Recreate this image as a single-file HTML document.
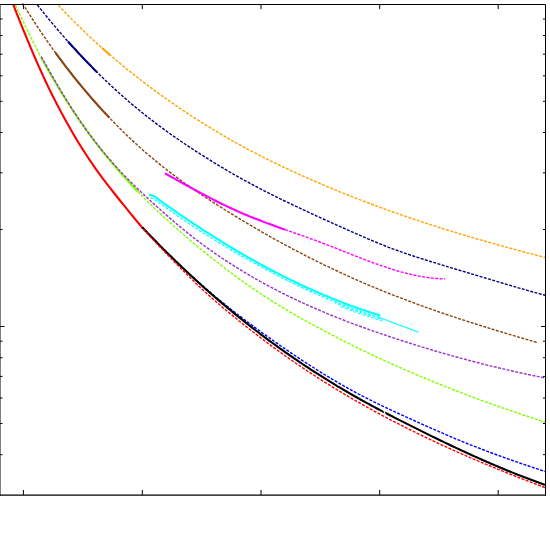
<!DOCTYPE html>
<html><head><meta charset="utf-8"><title>plot</title>
<style>
html,body{margin:0;padding:0;background:#fff;width:550px;height:550px;overflow:hidden;font-family:"Liberation Sans",sans-serif;}
svg{display:block;position:absolute;left:0;top:0;}
</style></head><body>
<svg width="550" height="550" viewBox="0 0 550 550">
<rect x="0" y="0" width="550" height="550" fill="#ffffff"/>
<defs><clipPath id="c"><rect x="0" y="2" width="546" height="493.5"/></clipPath></defs>
<g clip-path="url(#c)" stroke-linecap="butt" stroke-linejoin="round">
<path d="M58.40,5.23 L60.40,7.38 L62.40,9.51 L64.40,11.62 L66.40,13.71 L68.40,15.78 L70.40,17.84 L72.40,19.87 L74.40,21.88 L76.40,23.88 L78.40,25.85 L80.40,27.81 L82.40,29.75 L84.40,31.68 L86.40,33.59 L88.40,35.48 L90.40,37.35 L92.40,39.21 L94.40,41.06 L96.40,42.89 L98.40,44.70 L100.40,46.50 L102.40,48.29 L104.40,50.06 L106.40,51.82 L108.40,53.56 L110.40,55.30 L112.40,57.01 L114.40,58.72 L116.40,60.41 L118.40,62.09 L120.40,63.76 L122.40,65.42 L124.40,67.06 L126.40,68.69 L128.40,70.31 L130.40,71.92 L132.40,73.51 L134.40,75.10 L136.40,76.67 L138.40,78.23 L140.40,79.78 L142.40,81.32 L144.40,82.84 L146.40,84.36 L148.40,85.87 L150.40,87.36 L152.40,88.85 L154.40,90.32 L156.40,91.79 L158.40,93.24 L160.40,94.68 L162.40,96.12 L164.40,97.55 L166.40,98.96 L168.40,100.37 L170.40,101.77 L172.40,103.15 L174.40,104.53 L176.40,105.90 L178.40,107.27 L180.40,108.62 L182.40,109.96 L184.40,111.30 L186.40,112.62 L188.40,113.94 L190.40,115.25 L192.40,116.55 L194.40,117.84 L196.40,119.12 L198.40,120.39 L200.40,121.66 L202.40,122.91 L204.40,124.16 L206.40,125.40 L208.40,126.63 L210.40,127.85 L212.40,129.07 L214.40,130.27 L216.40,131.47 L218.40,132.66 L220.40,133.84 L222.40,135.01 L224.40,136.18 L226.40,137.33 L228.40,138.48 L230.40,139.62 L232.40,140.75 L234.40,141.87 L236.40,142.99 L238.40,144.09 L240.40,145.19 L242.40,146.28 L244.40,147.37 L246.40,148.44 L248.40,149.51 L250.40,150.57 L252.40,151.62 L254.40,152.67 L256.40,153.70 L258.40,154.74 L260.40,155.76 L262.40,156.78 L264.40,157.79 L266.40,158.79 L268.40,159.79 L270.40,160.78 L272.40,161.76 L274.40,162.74 L276.40,163.71 L278.40,164.68 L280.40,165.64 L282.40,166.59 L284.40,167.54 L286.40,168.48 L288.40,169.42 L290.40,170.35 L292.40,171.27 L294.40,172.19 L296.40,173.11 L298.40,174.02 L300.40,174.92 L302.40,175.82 L304.40,176.72 L306.40,177.61 L308.40,178.50 L310.40,179.38 L312.40,180.26 L314.40,181.13 L316.40,182.00 L318.40,182.86 L320.40,183.72 L322.40,184.57 L324.40,185.42 L326.40,186.27 L328.40,187.11 L330.40,187.94 L332.40,188.77 L334.40,189.60 L336.40,190.42 L338.40,191.24 L340.40,192.05 L342.40,192.86 L344.40,193.67 L346.40,194.47 L348.40,195.27 L350.40,196.06 L352.40,196.85 L354.40,197.63 L356.40,198.41 L358.40,199.19 L360.40,199.96 L362.40,200.73 L364.40,201.49 L366.40,202.25 L368.40,203.01 L370.40,203.76 L372.40,204.51 L374.40,205.26 L376.40,206.00 L378.40,206.73 L380.40,207.47 L382.40,208.20 L384.40,208.92 L386.40,209.64 L388.40,210.36 L390.40,211.08 L392.40,211.79 L394.40,212.50 L396.40,213.20 L398.40,213.90 L400.40,214.60 L402.40,215.29 L404.40,215.98 L406.40,216.67 L408.40,217.35 L410.40,218.03 L412.40,218.70 L414.40,219.38 L416.40,220.05 L418.40,220.71 L420.40,221.38 L422.40,222.04 L424.40,222.69 L426.40,223.35 L428.40,224.00 L430.40,224.64 L432.40,225.29 L434.40,225.93 L436.40,226.57 L438.40,227.20 L440.40,227.83 L442.40,228.46 L444.40,229.09 L446.40,229.71 L448.40,230.33 L450.40,230.95 L452.40,231.56 L454.40,232.18 L456.40,232.78 L458.40,233.39 L460.40,233.99 L462.40,234.60 L464.40,235.19 L466.40,235.79 L468.40,236.38 L470.40,236.97 L472.40,237.56 L474.40,238.15 L476.40,238.73 L478.40,239.31 L480.40,239.89 L482.40,240.46 L484.40,241.04 L486.40,241.61 L488.40,242.17 L490.40,242.74 L492.40,243.30 L494.40,243.87 L496.40,244.43 L498.40,244.98 L500.40,245.54 L502.40,246.09 L504.40,246.64 L506.40,247.19 L508.40,247.74 L510.40,248.28 L512.40,248.82 L514.40,249.36 L516.40,249.90 L518.40,250.44 L520.40,250.97 L522.40,251.50 L524.40,252.04 L526.40,252.56 L528.40,253.09 L530.40,253.62 L532.40,254.14 L534.40,254.66 L536.40,255.18 L538.40,255.70 L540.40,256.22 L542.40,256.73 L544.40,257.25 L545.00,257.40" stroke="#ffa500" stroke-width="1.4" stroke-dasharray="3.0 1.4" stroke-dashoffset="0" fill="none"/>
<path d="M102.00,47.93 L104.00,49.71 L106.00,51.47 L108.00,53.22 L110.00,54.95 L110.50,55.38" stroke="#ffa500" stroke-width="2.1" fill="none"/>
<path d="M37.30,4.91 L39.30,7.43 L41.30,9.92 L43.30,12.40 L45.30,14.85 L47.30,17.29 L49.30,19.71 L51.30,22.12 L53.30,24.50 L55.30,26.87 L57.30,29.22 L59.30,31.55 L61.30,33.86 L63.30,36.16 L65.30,38.43 L67.30,40.69 L69.30,42.93 L71.30,45.16 L73.30,47.36 L75.30,49.55 L77.30,51.72 L79.30,53.87 L81.30,56.01 L83.30,58.12 L85.30,60.22 L87.30,62.31 L89.30,64.37 L91.30,66.42 L93.30,68.44 L95.30,70.46 L97.30,72.45 L99.30,74.42 L101.30,76.38 L103.30,78.32 L105.30,80.25 L107.30,82.15 L109.30,84.04 L111.30,85.91 L113.30,87.77 L115.30,89.61 L117.30,91.42 L119.30,93.23 L121.30,95.01 L123.30,96.78 L125.30,98.53 L127.30,100.26 L129.30,101.98 L131.30,103.68 L133.30,105.36 L135.30,107.03 L137.30,108.68 L139.30,110.32 L141.30,111.94 L143.30,113.54 L145.30,115.13 L147.30,116.71 L149.30,118.27 L151.30,119.82 L153.30,121.35 L155.30,122.87 L157.30,124.37 L159.30,125.87 L161.30,127.35 L163.30,128.81 L165.30,130.27 L167.30,131.71 L169.30,133.14 L171.30,134.56 L173.30,135.97 L175.30,137.37 L177.30,138.76 L179.30,140.14 L181.30,141.50 L183.30,142.86 L185.30,144.21 L187.30,145.54 L189.30,146.87 L191.30,148.19 L193.30,149.50 L195.30,150.80 L197.30,152.10 L199.30,153.38 L201.30,154.66 L203.30,155.93 L205.30,157.20 L207.30,158.45 L209.30,159.70 L211.30,160.94 L213.30,162.18 L215.30,163.40 L217.30,164.62 L219.30,165.83 L221.30,167.03 L223.30,168.22 L225.30,169.40 L227.30,170.58 L229.30,171.74 L231.30,172.90 L233.30,174.05 L235.30,175.19 L237.30,176.33 L239.30,177.45 L241.30,178.56 L243.30,179.67 L245.30,180.77 L247.30,181.86 L249.30,182.94 L251.30,184.01 L253.30,185.08 L255.30,186.13 L257.30,187.18 L259.30,188.23 L261.30,189.27 L263.30,190.30 L265.30,191.32 L267.30,192.34 L269.30,193.35 L271.30,194.35 L273.30,195.35 L275.30,196.35 L277.30,197.34 L279.30,198.32 L281.30,199.30 L283.30,200.28 L285.30,201.25 L287.30,202.22 L289.30,203.18 L291.30,204.14 L293.30,205.09 L295.30,206.05 L297.30,206.99 L299.30,207.94 L301.30,208.88 L303.30,209.81 L305.30,210.74 L307.30,211.67 L309.30,212.60 L311.30,213.53 L313.30,214.45 L315.30,215.36 L317.30,216.28 L319.30,217.19 L321.30,218.10 L323.30,219.01 L325.30,219.92 L327.30,220.82 L329.30,221.72 L331.30,222.62 L333.30,223.52 L335.30,224.42 L337.30,225.31 L339.30,226.20 L341.30,227.10 L343.30,227.99 L345.30,228.88 L347.30,229.77 L349.30,230.65 L351.30,231.54 L353.30,232.43 L355.30,233.31 L357.30,234.19 L359.30,235.07 L361.30,235.95 L363.30,236.82 L365.30,237.68 L367.30,238.55 L369.30,239.40 L371.30,240.25 L373.30,241.10 L375.30,241.93 L377.30,242.76 L379.30,243.58 L381.30,244.40 L383.30,245.20 L385.30,245.99 L387.30,246.77 L389.30,247.54 L391.30,248.30 L393.30,249.05 L395.30,249.79 L397.30,250.51 L399.30,251.23 L401.30,251.94 L403.30,252.63 L405.30,253.32 L407.30,254.00 L409.30,254.67 L411.30,255.34 L413.30,256.00 L415.30,256.65 L417.30,257.30 L419.30,257.94 L421.30,258.58 L423.30,259.21 L425.30,259.84 L427.30,260.47 L429.30,261.09 L431.30,261.71 L433.30,262.33 L435.30,262.95 L437.30,263.56 L439.30,264.18 L441.30,264.79 L443.30,265.40 L445.30,266.01 L447.30,266.61 L449.30,267.22 L451.30,267.82 L453.30,268.43 L455.30,269.03 L457.30,269.63 L459.30,270.23 L461.30,270.83 L463.30,271.43 L465.30,272.03 L467.30,272.63 L469.30,273.23 L471.30,273.83 L473.30,274.42 L475.30,275.02 L477.30,275.62 L479.30,276.22 L481.30,276.81 L483.30,277.41 L485.30,278.01 L487.30,278.61 L489.30,279.20 L491.30,279.80 L493.30,280.40 L495.30,280.99 L497.30,281.59 L499.30,282.18 L501.30,282.78 L503.30,283.37 L505.30,283.96 L507.30,284.55 L509.30,285.14 L511.30,285.73 L513.30,286.31 L515.30,286.89 L517.30,287.47 L519.30,288.05 L521.30,288.63 L523.30,289.20 L525.30,289.78 L527.30,290.34 L529.30,290.91 L531.30,291.47 L533.30,292.03 L535.30,292.59 L537.30,293.14 L539.30,293.69 L541.30,294.24 L543.30,294.78 L545.00,295.24" stroke="#000080" stroke-width="1.4" stroke-dasharray="3.0 1.4" stroke-dashoffset="0" fill="none"/>
<path d="M68.00,41.48 L70.00,43.71 L72.00,45.93 L74.00,48.13 L76.00,50.31 L78.00,52.48 L80.00,54.62 L82.00,56.75 L84.00,58.86 L86.00,60.95 L88.00,63.03 L90.00,65.09 L92.00,67.13 L94.00,69.15 L96.00,71.16 L97.00,72.15" stroke="#000080" stroke-width="2.1" fill="none"/>
<path d="M22.50,3.34 L24.50,6.57 L26.50,9.77 L28.50,12.94 L30.50,16.07 L32.50,19.18 L34.50,22.25 L36.50,25.29 L38.50,28.31 L40.50,31.29 L42.50,34.24 L44.50,37.17 L46.50,40.06 L48.50,42.93 L50.50,45.76 L52.50,48.57 L54.50,51.35 L56.50,54.10 L58.50,56.83 L60.50,59.52 L62.50,62.19 L64.50,64.84 L66.50,67.45 L68.50,70.04 L70.50,72.61 L72.50,75.15 L74.50,77.66 L76.50,80.15 L78.50,82.62 L80.50,85.06 L82.50,87.47 L84.50,89.86 L86.50,92.23 L88.50,94.58 L90.50,96.90 L92.50,99.20 L94.50,101.47 L96.50,103.73 L98.50,105.96 L100.50,108.17 L102.50,110.36 L104.50,112.52 L106.50,114.67 L108.50,116.79 L110.50,118.89 L112.50,120.97 L114.50,123.03 L116.50,125.07 L118.50,127.09 L120.50,129.08 L122.50,131.06 L124.50,133.01 L126.50,134.95 L128.50,136.86 L130.50,138.76 L132.50,140.63 L134.50,142.48 L136.50,144.32 L138.50,146.13 L140.50,147.93 L142.50,149.70 L144.50,151.46 L146.50,153.20 L148.50,154.92 L150.50,156.61 L152.50,158.30 L154.50,159.96 L156.50,161.60 L158.50,163.23 L160.50,164.84 L162.50,166.43 L164.50,168.01 L166.50,169.57 L168.50,171.11 L170.50,172.64 L172.50,174.16 L174.50,175.66 L176.50,177.14 L178.50,178.62 L180.50,180.07 L182.50,181.52 L184.50,182.95 L186.50,184.37 L188.50,185.78 L190.50,187.18 L192.50,188.56 L194.50,189.94 L196.50,191.30 L198.50,192.66 L200.50,194.00 L202.50,195.33 L204.50,196.66 L206.50,197.98 L208.50,199.29 L210.50,200.59 L212.50,201.88 L214.50,203.17 L216.50,204.45 L218.50,205.72 L220.50,206.99 L222.50,208.25 L224.50,209.50 L226.50,210.75 L228.50,212.00 L230.50,213.24 L232.50,214.47 L234.50,215.69 L236.50,216.92 L238.50,218.13 L240.50,219.34 L242.50,220.54 L244.50,221.74 L246.50,222.93 L248.50,224.12 L250.50,225.30 L252.50,226.48 L254.50,227.65 L256.50,228.81 L258.50,229.97 L260.50,231.12 L262.50,232.27 L264.50,233.41 L266.50,234.55 L268.50,235.68 L270.50,236.80 L272.50,237.92 L274.50,239.03 L276.50,240.14 L278.50,241.24 L280.50,242.34 L282.50,243.43 L284.50,244.51 L286.50,245.59 L288.50,246.66 L290.50,247.73 L292.50,248.79 L294.50,249.85 L296.50,250.90 L298.50,251.95 L300.50,252.99 L302.50,254.02 L304.50,255.05 L306.50,256.07 L308.50,257.09 L310.50,258.10 L312.50,259.11 L314.50,260.11 L316.50,261.10 L318.50,262.09 L320.50,263.08 L322.50,264.05 L324.50,265.03 L326.50,265.99 L328.50,266.96 L330.50,267.91 L332.50,268.86 L334.50,269.81 L336.50,270.75 L338.50,271.68 L340.50,272.61 L342.50,273.53 L344.50,274.45 L346.50,275.36 L348.50,276.27 L350.50,277.17 L352.50,278.06 L354.50,278.95 L356.50,279.84 L358.50,280.71 L360.50,281.59 L362.50,282.46 L364.50,283.32 L366.50,284.17 L368.50,285.03 L370.50,285.87 L372.50,286.71 L374.50,287.55 L376.50,288.38 L378.50,289.20 L380.50,290.02 L382.50,290.83 L384.50,291.64 L386.50,292.45 L388.50,293.24 L390.50,294.04 L392.50,294.83 L394.50,295.61 L396.50,296.39 L398.50,297.16 L400.50,297.93 L402.50,298.70 L404.50,299.46 L406.50,300.22 L408.50,300.97 L410.50,301.71 L412.50,302.46 L414.50,303.20 L416.50,303.93 L418.50,304.66 L420.50,305.39 L422.50,306.11 L424.50,306.83 L426.50,307.54 L428.50,308.25 L430.50,308.96 L432.50,309.66 L434.50,310.36 L436.50,311.05 L438.50,311.74 L440.50,312.43 L442.50,313.11 L444.50,313.80 L446.50,314.47 L448.50,315.15 L450.50,315.82 L452.50,316.48 L454.50,317.15 L456.50,317.81 L458.50,318.47 L460.50,319.12 L462.50,319.78 L464.50,320.43 L466.50,321.07 L468.50,321.72 L470.50,322.36 L472.50,322.99 L474.50,323.63 L476.50,324.26 L478.50,324.89 L480.50,325.52 L482.50,326.15 L484.50,326.77 L486.50,327.39 L488.50,328.01 L490.50,328.63 L492.50,329.24 L494.50,329.85 L496.50,330.46 L498.50,331.07 L500.50,331.68 L502.50,332.28 L504.50,332.89 L506.50,333.49 L508.50,334.09 L510.50,334.69 L512.50,335.28 L514.50,335.88 L516.50,336.47 L518.50,337.06 L520.50,337.65 L522.50,338.24 L524.50,338.83 L526.50,339.42 L528.50,340.00 L530.50,340.59 L532.50,341.17 L534.50,341.75 L536.50,342.33 L537.50,342.63" stroke="#8b4513" stroke-width="1.4" stroke-dasharray="3.0 1.4" stroke-dashoffset="0" fill="none"/>
<path d="M55.40,52.59 L57.40,55.33 L59.40,58.04 L61.40,60.73 L63.40,63.39 L65.40,66.02 L67.40,68.62 L69.40,71.20 L71.40,73.76 L73.40,76.28 L75.40,78.79 L77.40,81.26 L79.40,83.72 L81.40,86.15 L83.40,88.55 L85.40,90.93 L87.40,93.29 L89.40,95.62 L91.40,97.94 L93.40,100.22 L95.40,102.49 L97.40,104.74 L99.40,106.96 L101.40,109.16 L103.40,111.34 L105.40,113.49 L107.40,115.63 L109.40,117.74 L109.50,117.84" stroke="#8b4513" stroke-width="2.1" fill="none"/>
<path d="M285.00,229.59 L287.00,230.30 L289.00,231.00 L291.00,231.70 L293.00,232.41 L295.00,233.11 L297.00,233.81 L299.00,234.52 L301.00,235.22 L303.00,235.93 L305.00,236.64 L307.00,237.36 L309.00,238.08 L311.00,238.80 L313.00,239.53 L315.00,240.26 L317.00,241.00 L319.00,241.74 L321.00,242.50 L323.00,243.26 L325.00,244.02 L327.00,244.79 L329.00,245.57 L331.00,246.35 L333.00,247.13 L335.00,247.92 L337.00,248.71 L339.00,249.50 L341.00,250.30 L343.00,251.09 L345.00,251.89 L347.00,252.68 L349.00,253.47 L351.00,254.27 L353.00,255.06 L355.00,255.85 L357.00,256.63 L359.00,257.41 L361.00,258.19 L363.00,258.96 L365.00,259.72 L367.00,260.48 L369.00,261.23 L371.00,261.98 L373.00,262.72 L375.00,263.44 L377.00,264.16 L379.00,264.87 L381.00,265.57 L383.00,266.26 L385.00,266.94 L387.00,267.60 L389.00,268.25 L391.00,268.89 L393.00,269.52 L395.00,270.13 L397.00,270.72 L399.00,271.30 L401.00,271.86 L403.00,272.41 L405.00,272.94 L407.00,273.45 L409.00,273.94 L411.00,274.41 L413.00,274.87 L415.00,275.30 L417.00,275.71 L419.00,276.10 L421.00,276.47 L423.00,276.81 L425.00,277.13 L427.00,277.43 L429.00,277.70 L431.00,277.95 L433.00,278.17 L435.00,278.37 L437.00,278.54 L439.00,278.68 L441.00,278.79 L443.00,278.87 L445.00,278.93" stroke="#ff00ff" stroke-width="1.4" stroke-dasharray="3.0 1.4" stroke-dashoffset="0" fill="none"/>
<path d="M165.00,173.37 L167.00,174.49 L169.00,175.61 L171.00,176.72 L173.00,177.84 L175.00,178.95 L177.00,180.06 L179.00,181.17 L181.00,182.28 L183.00,183.39 L185.00,184.49 L187.00,185.59 L189.00,186.69 L191.00,187.78 L193.00,188.87 L195.00,189.95 L197.00,191.03 L199.00,192.10 L201.00,193.17 L203.00,194.23 L205.00,195.28 L207.00,196.33 L209.00,197.37 L211.00,198.40 L213.00,199.43 L215.00,200.44 L217.00,201.45 L219.00,202.45 L221.00,203.44 L223.00,204.42 L225.00,205.39 L227.00,206.35 L229.00,207.29 L231.00,208.23 L233.00,209.16 L235.00,210.07 L237.00,210.97 L239.00,211.86 L241.00,212.73 L243.00,213.59 L245.00,214.44 L247.00,215.28 L249.00,216.11 L251.00,216.92 L253.00,217.73 L255.00,218.52 L257.00,219.30 L259.00,220.08 L261.00,220.85 L263.00,221.61 L265.00,222.36 L267.00,223.11 L269.00,223.85 L271.00,224.58 L273.00,225.31 L275.00,226.03 L277.00,226.75 L279.00,227.46 L281.00,228.18 L283.00,228.89 L285.00,229.59" stroke="#ff00ff" stroke-width="2.1" fill="none"/>
<path d="M154.10,196.27 L156.10,197.72 L158.10,199.16 L160.10,200.60 L162.10,202.03 L164.10,203.45 L166.10,204.87 L168.10,206.28 L170.10,207.69 L172.10,209.09 L174.10,210.48 L176.10,211.87 L178.10,213.25 L180.10,214.62 L182.10,215.99 L184.10,217.35 L186.10,218.70 L188.10,220.05 L190.10,221.39 L192.10,222.73 L194.10,224.06 L196.10,225.38 L198.10,226.70 L200.10,228.00 L202.10,229.31 L204.10,230.60 L206.10,231.89 L208.10,233.17 L210.10,234.45 L212.10,235.72 L214.10,236.98 L216.10,238.23 L218.10,239.48 L220.10,240.72 L222.10,241.95 L224.10,243.18 L226.10,244.40 L228.10,245.61 L230.10,246.82 L232.10,248.02 L234.10,249.21 L236.10,250.40 L238.10,251.57 L240.10,252.74 L242.10,253.91 L244.10,255.06 L246.10,256.21 L248.10,257.35 L250.10,258.49 L252.10,259.62 L254.10,260.74 L256.10,261.85 L258.10,262.95 L260.10,264.05 L262.10,265.14 L264.10,266.22 L266.10,267.30 L268.10,268.37 L270.10,269.43 L272.10,270.48 L274.10,271.53 L276.10,272.56 L278.10,273.59 L280.10,274.62 L282.10,275.63 L284.10,276.64 L286.10,277.64 L288.10,278.63 L290.10,279.61 L292.10,280.59 L294.10,281.56 L296.10,282.52 L298.10,283.47 L300.10,284.41 L302.10,285.35 L304.10,286.28 L306.10,287.20 L308.10,288.11 L310.10,289.02 L312.10,289.92 L314.10,290.80 L316.10,291.68 L318.10,292.56 L320.10,293.42 L322.10,294.28 L324.10,295.13 L326.10,295.96 L328.10,296.80 L330.10,297.62 L332.10,298.43 L334.10,299.24 L336.10,300.04 L338.10,300.83 L340.10,301.61 L342.10,302.38 L344.10,303.15 L346.10,303.90 L348.10,304.65 L350.10,305.39 L352.10,306.12 L354.10,306.84 L356.10,307.56 L358.10,308.26 L360.10,308.96 L362.10,309.65 L364.10,310.32 L366.10,311.00 L368.10,311.66 L370.10,312.31 L372.10,312.95 L374.10,313.59 L376.10,314.21 L378.10,314.83 L380.10,315.44 L380.50,315.56" stroke="#00ffff" stroke-width="2.1" fill="none"/>
<path d="M378.00,317.05 L380.00,317.80 L382.00,318.55 L384.00,319.30 L386.00,320.05 L388.00,320.80 L390.00,321.56 L392.00,322.31 L394.00,323.06 L396.00,323.81 L398.00,324.56 L400.00,325.30 L402.00,326.05 L404.00,326.80 L406.00,327.54 L408.00,328.29 L410.00,329.03 L412.00,329.77 L414.00,330.50 L416.00,331.24 L418.00,331.97 L418.60,332.19" stroke="#00ffff" stroke-width="1.1" fill="none"/>
<path d="M150,194.8 L154.1,196.27" stroke="#00ffff" stroke-width="2.1" stroke-linecap="round" fill="none"/>
<path d="M150.50,197.58 L152.50,198.46 L154.50,199.46 L156.50,200.91 L158.50,202.35 L160.50,203.78 L162.50,205.21 L164.50,206.64 L166.50,208.05 L168.50,209.46 L170.50,210.87 L172.50,212.27 L174.50,213.66 L176.50,215.04 L178.50,216.42 L180.50,217.80 L182.50,219.16 L184.50,220.52 L186.50,221.87 L188.50,223.22 L190.50,224.56 L192.50,225.90 L194.50,227.22 L196.50,228.54 L198.50,229.86 L200.50,231.16 L202.50,232.44 L204.50,233.71 L206.50,234.97 L208.50,236.23 L210.50,237.48 L212.50,238.72 L214.50,239.96 L216.50,241.19 L218.50,242.41 L220.50,243.63 L222.50,244.84 L224.50,246.04 L226.50,247.23 L228.50,248.42 L230.50,249.60 L232.50,250.78 L234.50,251.95 L236.50,253.11 L238.50,254.26 L240.50,255.40 L242.50,256.54 L244.50,257.67 L246.50,258.80 L248.50,259.92 L250.50,261.03 L252.50,262.13 L254.50,263.22 L256.50,264.31 L258.50,265.39 L260.50,266.47 L262.50,267.56 L264.50,268.64 L266.50,269.71 L268.50,270.78 L270.50,271.84 L272.50,272.89 L274.50,273.93 L276.50,274.97 L278.50,276.00 L280.50,277.02 L282.50,278.03 L284.50,279.04 L286.50,280.04 L288.50,281.03 L290.50,282.01 L292.50,282.98 L294.50,283.95 L296.50,284.91 L298.50,285.86 L300.50,286.80 L302.50,287.74 L304.50,288.66 L306.50,289.58 L308.50,290.50 L310.50,291.40 L312.50,292.29 L314.50,293.18 L316.50,294.06 L318.50,294.93 L320.50,295.79 L322.50,296.65 L324.50,297.49 L326.50,298.33 L328.50,299.16 L330.50,299.98 L332.50,300.80 L334.50,301.60 L336.50,302.40 L338.50,303.19 L340.50,303.97 L342.50,304.74 L344.50,305.50 L346.50,306.25 L348.50,307.00 L350.50,307.74 L352.50,308.47 L354.50,309.19 L356.50,309.90 L358.50,310.60 L360.50,311.30 L362.50,311.98 L364.50,312.66 L366.50,313.33 L368.50,313.99 L370.50,314.64 L372.50,315.28 L374.50,315.91 L376.50,316.54 L378.50,317.15 L380.50,317.76" stroke="#00ffff" stroke-width="1.2" stroke-dasharray="3 1.5" fill="none"/>
<path d="M335.00,303.10 L337.00,303.90 L339.00,304.68 L341.00,305.46 L343.00,306.23 L345.00,306.99 L347.00,307.74 L349.00,308.49 L351.00,309.22 L353.00,309.95 L355.00,310.67 L357.00,311.38 L359.00,312.08 L361.00,312.77 L363.00,313.45 L365.00,314.13 L367.00,314.79 L369.00,315.45 L371.00,316.10 L373.00,316.74 L375.00,317.37 L377.00,317.99 L379.00,318.61 L381.00,319.21 L382.50,319.66" stroke="#00ffff" stroke-width="1.0" stroke-dasharray="3 1.6" stroke-dashoffset="1.5" fill="none"/>
<path d="M339.00,305.98 L341.00,306.76 L343.00,307.53 L345.00,308.29 L347.00,309.04 L349.00,309.79 L351.00,310.52 L353.00,311.25 L355.00,311.97 L357.00,312.68 L359.00,313.38 L361.00,314.07 L363.00,314.75 L365.00,315.43 L367.00,316.09 L369.00,316.75 L371.00,317.40 L373.00,318.04 L375.00,318.67 L377.00,319.29 L379.00,319.91 L381.00,320.51 L383.00,321.11 L383.50,321.25" stroke="#00ffff" stroke-width="1.0" stroke-dasharray="3 1.6" stroke-dashoffset="3.0" fill="none"/>
<path d="M15.50,5.08 L17.50,9.48 L19.50,13.81 L21.50,18.09 L23.50,22.32 L25.50,26.48 L27.50,30.60 L29.50,34.65 L31.50,38.65 L33.50,42.60 L35.50,46.50 L37.50,50.34 L39.50,54.14 L41.50,57.88 L43.50,61.57 L45.50,65.21 L47.50,68.81 L49.50,72.35 L51.50,75.85 L53.50,79.31 L55.50,82.71 L57.50,86.08 L59.50,89.39 L61.50,92.67 L63.50,95.90 L65.50,99.09 L67.50,102.23 L69.50,105.34 L71.50,108.40 L73.50,111.43 L75.50,114.42 L77.50,117.37 L79.50,120.28 L81.50,123.15 L83.50,125.99 L85.50,128.79 L87.50,131.56 L89.50,134.30 L91.50,137.00 L93.50,139.67 L95.50,142.30 L97.50,144.91 L99.50,147.48 L101.50,150.03 L103.50,152.54 L105.50,155.03 L107.50,157.49 L109.50,159.91 L111.50,162.31 L113.50,164.69 L115.50,167.04 L117.50,169.36 L119.50,171.65 L121.50,173.92 L123.50,176.17 L125.50,178.39 L127.50,180.59 L129.50,182.76 L131.50,184.91 L133.50,187.04 L135.50,189.15 L137.50,191.24 L139.50,193.30 L141.50,195.35 L143.50,197.38 L145.50,199.38 L147.50,201.37 L149.50,203.34 L151.50,205.30 L153.50,207.23 L155.50,209.15 L157.50,211.06 L159.50,212.94 L161.50,214.82 L163.50,216.67 L165.50,218.52 L167.50,220.35 L169.50,222.17 L171.50,223.97 L173.50,225.76 L175.50,227.54 L177.50,229.31 L179.50,231.07 L181.50,232.82 L183.50,234.56 L185.50,236.29 L187.50,238.01 L189.50,239.72 L191.50,241.42 L193.50,243.11 L195.50,244.79 L197.50,246.46 L199.50,248.12 L201.50,249.76 L203.50,251.40 L205.50,253.03 L207.50,254.65 L209.50,256.25 L211.50,257.85 L213.50,259.43 L215.50,261.01 L217.50,262.57 L219.50,264.13 L221.50,265.67 L223.50,267.20 L225.50,268.73 L227.50,270.24 L229.50,271.74 L231.50,273.23 L233.50,274.70 L235.50,276.17 L237.50,277.63 L239.50,279.07 L241.50,280.51 L243.50,281.93 L245.50,283.34 L247.50,284.74 L249.50,286.13 L251.50,287.51 L253.50,288.88 L255.50,290.24 L257.50,291.58 L259.50,292.91 L261.50,294.24 L263.50,295.55 L265.50,296.85 L267.50,298.13 L269.50,299.41 L271.50,300.68 L273.50,301.94 L275.50,303.18 L277.50,304.42 L279.50,305.65 L281.50,306.86 L283.50,308.07 L285.50,309.27 L287.50,310.46 L289.50,311.64 L291.50,312.81 L293.50,313.98 L295.50,315.13 L297.50,316.28 L299.50,317.42 L301.50,318.55 L303.50,319.68 L305.50,320.79 L307.50,321.90 L309.50,323.01 L311.50,324.10 L313.50,325.19 L315.50,326.27 L317.50,327.35 L319.50,328.42 L321.50,329.49 L323.50,330.55 L325.50,331.60 L327.50,332.65 L329.50,333.69 L331.50,334.73 L333.50,335.77 L335.50,336.80 L337.50,337.82 L339.50,338.84 L341.50,339.86 L343.50,340.87 L345.50,341.87 L347.50,342.87 L349.50,343.87 L351.50,344.86 L353.50,345.85 L355.50,346.83 L357.50,347.81 L359.50,348.78 L361.50,349.75 L363.50,350.71 L365.50,351.67 L367.50,352.63 L369.50,353.58 L371.50,354.53 L373.50,355.47 L375.50,356.41 L377.50,357.34 L379.50,358.27 L381.50,359.19 L383.50,360.11 L385.50,361.03 L387.50,361.94 L389.50,362.85 L391.50,363.75 L393.50,364.65 L395.50,365.55 L397.50,366.44 L399.50,367.32 L401.50,368.21 L403.50,369.08 L405.50,369.96 L407.50,370.83 L409.50,371.69 L411.50,372.56 L413.50,373.41 L415.50,374.27 L417.50,375.12 L419.50,375.96 L421.50,376.80 L423.50,377.64 L425.50,378.48 L427.50,379.31 L429.50,380.13 L431.50,380.96 L433.50,381.78 L435.50,382.59 L437.50,383.40 L439.50,384.21 L441.50,385.01 L443.50,385.81 L445.50,386.61 L447.50,387.40 L449.50,388.19 L451.50,388.98 L453.50,389.76 L455.50,390.53 L457.50,391.31 L459.50,392.08 L461.50,392.85 L463.50,393.61 L465.50,394.37 L467.50,395.13 L469.50,395.88 L471.50,396.63 L473.50,397.38 L475.50,398.12 L477.50,398.86 L479.50,399.60 L481.50,400.33 L483.50,401.06 L485.50,401.79 L487.50,402.51 L489.50,403.23 L491.50,403.94 L493.50,404.66 L495.50,405.37 L497.50,406.07 L499.50,406.78 L501.50,407.48 L503.50,408.18 L505.50,408.87 L507.50,409.56 L509.50,410.25 L511.50,410.93 L513.50,411.62 L515.50,412.30 L517.50,412.97 L519.50,413.64 L521.50,414.31 L523.50,414.98 L525.50,415.65 L527.50,416.31 L529.50,416.97 L531.50,417.62 L533.50,418.27 L535.50,418.92 L537.50,419.57 L539.50,420.21 L541.50,420.86 L543.50,421.49 L544.90,421.94" stroke="#7fff00" stroke-width="1.4" stroke-dasharray="3.0 1.4" stroke-dashoffset="0" fill="none"/>
<path d="M41.30,57.51 L43.30,61.20 L45.30,64.85 L47.30,68.45 L49.30,72.00 L51.30,75.51 L53.30,78.96 L55.30,82.38 L57.30,85.74 L59.30,89.06 L61.30,92.34 L63.30,95.58 L65.30,98.77 L67.30,101.92 L69.30,105.03 L71.30,108.10 L73.30,111.13 L75.30,114.12 L77.30,117.07 L79.30,119.99 L81.30,122.87 L83.30,125.71 L85.30,128.52 L87.30,131.29 L89.30,134.03 L91.30,136.73 L93.30,139.40 L95.30,142.04 L97.30,144.65 L99.30,147.23 L101.30,149.78 L103.30,152.29 L105.30,154.78 L107.30,157.24 L109.30,159.67 L111.30,162.08 L113.30,164.45 L115.30,166.80 L117.30,169.13 L119.30,171.42 L121.30,173.70 L123.30,175.94 L125.30,178.17 L127.30,180.37 L129.30,182.54 L131.30,184.70 L133.30,186.83 L135.30,188.94 L137.30,191.03 L138.00,191.76" stroke="#7fff00" stroke-width="2.1" fill="none"/>
<path d="M41.30,56.76 L43.30,60.35 L45.30,63.91 L47.30,67.45 L49.30,70.97 L51.30,74.46 L53.30,77.93 L55.30,81.36 L57.30,84.77 L59.30,88.14 L61.30,91.48 L63.30,94.79 L65.30,98.06 L67.30,101.29 L69.30,104.49 L71.30,107.64 L73.30,110.76 L75.30,113.83 L77.30,116.86 L79.30,119.84 L81.30,122.77 L83.30,125.66 L85.30,128.49 L87.30,131.28 L89.30,134.02 L91.30,136.71 L93.30,139.36 L95.30,141.96 L97.30,144.52 L99.30,147.04 L101.30,149.51 L103.30,151.95 L105.30,154.35 L107.30,156.71 L109.30,159.03 L111.30,161.32 L113.30,163.57 L115.30,165.79 L117.30,167.98 L119.30,170.14 L121.30,172.27 L123.30,174.38 L125.30,176.45 L127.30,178.50 L129.30,180.53 L131.30,182.53 L133.30,184.51 L135.30,186.47 L137.30,188.41 L139.30,190.33 L141.30,192.24 L143.30,194.13 L145.30,196.00 L147.30,197.86 L149.30,199.71 L151.30,201.54 L153.30,203.37 L155.30,205.19 L157.30,206.99 L159.30,208.79 L161.30,210.58 L163.30,212.36 L165.30,214.13 L167.30,215.88 L169.30,217.63 L171.30,219.36 L173.30,221.08 L175.30,222.78 L177.30,224.48 L179.30,226.15 L181.30,227.82 L183.30,229.46 L185.30,231.10 L187.30,232.71 L189.30,234.31 L191.30,235.89 L193.30,237.46 L195.30,239.00 L197.30,240.53 L199.30,242.05 L201.30,243.54 L203.30,245.03 L205.30,246.49 L207.30,247.94 L209.30,249.37 L211.30,250.79 L213.30,252.20 L215.30,253.59 L217.30,254.96 L219.30,256.32 L221.30,257.67 L223.30,259.00 L225.30,260.32 L227.30,261.62 L229.30,262.92 L231.30,264.20 L233.30,265.46 L235.30,266.72 L237.30,267.96 L239.30,269.19 L241.30,270.41 L243.30,271.62 L245.30,272.81 L247.30,274.00 L249.30,275.17 L251.30,276.34 L253.30,277.49 L255.30,278.63 L257.30,279.76 L259.30,280.88 L261.30,281.99 L263.30,283.10 L265.30,284.19 L267.30,285.27 L269.30,286.34 L271.30,287.40 L273.30,288.45 L275.30,289.49 L277.30,290.53 L279.30,291.55 L281.30,292.56 L283.30,293.57 L285.30,294.57 L287.30,295.55 L289.30,296.53 L291.30,297.50 L293.30,298.46 L295.30,299.41 L297.30,300.36 L299.30,301.29 L301.30,302.22 L303.30,303.14 L305.30,304.05 L307.30,304.96 L309.30,305.85 L311.30,306.74 L313.30,307.62 L315.30,308.50 L317.30,309.36 L319.30,310.22 L321.30,311.07 L323.30,311.92 L325.30,312.75 L327.30,313.58 L329.30,314.41 L331.30,315.23 L333.30,316.04 L335.30,316.84 L337.30,317.64 L339.30,318.43 L341.30,319.22 L343.30,320.00 L345.30,320.77 L347.30,321.54 L349.30,322.30 L351.30,323.06 L353.30,323.81 L355.30,324.55 L357.30,325.29 L359.30,326.03 L361.30,326.76 L363.30,327.49 L365.30,328.21 L367.30,328.92 L369.30,329.63 L371.30,330.34 L373.30,331.04 L375.30,331.74 L377.30,332.43 L379.30,333.12 L381.30,333.81 L383.30,334.49 L385.30,335.17 L387.30,335.84 L389.30,336.51 L391.30,337.18 L393.30,337.84 L395.30,338.50 L397.30,339.15 L399.30,339.81 L401.30,340.46 L403.30,341.10 L405.30,341.74 L407.30,342.38 L409.30,343.02 L411.30,343.65 L413.30,344.28 L415.30,344.90 L417.30,345.52 L419.30,346.14 L421.30,346.75 L423.30,347.37 L425.30,347.97 L427.30,348.58 L429.30,349.18 L431.30,349.77 L433.30,350.37 L435.30,350.96 L437.30,351.54 L439.30,352.13 L441.30,352.71 L443.30,353.28 L445.30,353.85 L447.30,354.42 L449.30,354.99 L451.30,355.55 L453.30,356.11 L455.30,356.66 L457.30,357.22 L459.30,357.76 L461.30,358.31 L463.30,358.85 L465.30,359.39 L467.30,359.92 L469.30,360.45 L471.30,360.98 L473.30,361.50 L475.30,362.02 L477.30,362.54 L479.30,363.05 L481.30,363.56 L483.30,364.07 L485.30,364.57 L487.30,365.07 L489.30,365.57 L491.30,366.06 L493.30,366.55 L495.30,367.04 L497.30,367.52 L499.30,368.00 L501.30,368.47 L503.30,368.94 L505.30,369.41 L507.30,369.88 L509.30,370.34 L511.30,370.80 L513.30,371.25 L515.30,371.70 L517.30,372.15 L519.30,372.59 L521.30,373.03 L523.30,373.47 L525.30,373.90 L527.30,374.33 L529.30,374.76 L531.30,375.18 L533.30,375.60 L535.30,376.02 L537.30,376.43 L539.30,376.84 L541.30,377.25 L543.30,377.65 L544.90,377.97" stroke="#9932cc" stroke-width="1.4" stroke-dasharray="3.0 1.4" stroke-dashoffset="0" fill="none"/>
<path d="M13.20,4.47 L15.20,9.54 L17.20,14.58 L19.20,19.59 L21.20,24.57 L23.20,29.52 L25.20,34.43 L27.20,39.29 L29.20,44.10 L31.20,48.87 L33.20,53.57 L35.20,58.22 L37.20,62.81 L39.20,67.33 L41.20,71.78 L43.20,76.15 L45.20,80.45 L47.20,84.68 L49.20,88.84 L51.20,92.92 L53.20,96.94 L55.20,100.90 L57.20,104.79 L59.20,108.61 L61.20,112.37 L63.20,116.08 L65.20,119.72 L67.20,123.31 L69.20,126.84 L71.20,130.32 L73.20,133.75 L75.20,137.12 L77.20,140.44 L79.20,143.71 L81.20,146.93 L83.20,150.10 L85.20,153.22 L87.20,156.28 L89.20,159.30 L91.20,162.27 L93.20,165.19 L95.20,168.06 L97.20,170.88 L99.20,173.66 L101.20,176.39 L103.20,179.07 L105.20,181.72 L107.20,184.33 L109.20,186.90 L111.20,189.46 L113.20,191.99 L115.20,194.50 L117.20,197.00 L119.20,199.49 L121.20,201.98 L123.20,204.46 L125.20,206.94 L127.20,209.42 L129.20,211.89 L131.20,214.35 L133.20,216.79 L135.20,219.22 L137.20,221.62 L139.20,224.00 L141.20,226.35 L142.80,228.21" stroke="#ff0000" stroke-width="2.1" fill="none"/>
<path d="M142.50,227.71 L144.50,229.80 L146.50,231.87 L148.50,233.93 L150.50,235.99 L152.50,238.04 L154.50,240.08 L156.50,242.10 L158.50,244.12 L160.50,246.13 L162.50,248.13 L164.50,250.12 L166.50,252.10 L168.50,254.07 L170.50,256.03 L172.50,257.97 L174.50,259.90 L176.50,261.83 L178.50,263.74 L180.50,265.63 L182.50,267.52 L184.50,269.39 L186.50,271.25 L188.50,273.10 L190.50,274.93 L192.50,276.76 L194.50,278.57 L196.50,280.36 L198.50,282.15 L200.50,283.92 L202.50,285.68 L204.50,287.42 L206.50,289.15 L208.50,290.87 L210.50,292.58 L212.50,294.27 L214.50,295.95 L216.50,297.62 L218.50,299.27 L220.50,300.91 L222.50,302.54 L224.50,304.15 L226.50,305.76 L228.50,307.35 L230.50,308.93 L232.50,310.50 L234.50,312.05 L236.50,313.60 L238.50,315.14 L240.50,316.67 L242.50,318.19 L244.50,319.70 L246.50,321.20 L248.50,322.70 L250.50,324.18 L252.50,325.66 L254.50,327.13 L256.50,328.60 L258.50,330.06 L260.50,331.51 L262.50,332.96 L264.50,334.40 L266.50,335.83 L268.50,337.26 L270.50,338.69 L272.50,340.10 L274.50,341.51 L276.50,342.92 L278.50,344.31 L280.50,345.70 L282.50,347.09 L284.50,348.46 L286.50,349.83 L288.50,351.20 L290.50,352.55 L292.50,353.90 L294.50,355.25 L296.50,356.58 L298.50,357.91 L300.50,359.23 L302.50,360.55 L304.50,361.85 L306.50,363.15 L308.50,364.45 L310.50,365.73 L312.50,367.01 L314.50,368.28 L316.50,369.54 L318.50,370.80 L320.50,372.04 L322.50,373.28 L324.50,374.51 L326.50,375.73 L328.50,376.94 L330.50,378.15 L332.50,379.34 L334.50,380.53 L336.50,381.70 L338.50,382.87 L340.50,384.03 L342.50,385.18 L344.50,386.32 L346.50,387.45 L348.50,388.56 L350.50,389.67 L352.50,390.77 L354.50,391.86 L356.50,392.94 L358.50,394.00 L360.50,395.06 L362.50,396.10 L364.50,397.14 L366.50,398.16 L368.50,399.17 L370.50,400.18 L372.50,401.17 L374.50,402.16 L376.50,403.14 L378.50,404.11 L380.50,405.07 L382.50,406.03 L384.50,406.98 L386.50,407.93 L388.50,408.87 L390.50,409.80 L392.50,410.73 L394.50,411.65 L396.50,412.58 L398.50,413.49 L400.50,414.41 L402.50,415.32 L404.50,416.23 L406.50,417.14 L408.50,418.05 L410.50,418.95 L412.50,419.86 L414.50,420.76 L416.50,421.67 L418.50,422.57 L420.50,423.47 L422.50,424.36 L424.50,425.26 L426.50,426.15 L428.50,427.04 L430.50,427.93 L432.50,428.81 L434.50,429.69 L436.50,430.57 L438.50,431.45 L440.50,432.32 L442.50,433.19 L444.50,434.05 L446.50,434.91 L448.50,435.76 L450.50,436.61 L452.50,437.46 L454.50,438.30 L456.50,439.13 L458.50,439.96 L460.50,440.79 L462.50,441.61 L464.50,442.42 L466.50,443.23 L468.50,444.03 L470.50,444.83 L472.50,445.62 L474.50,446.41 L476.50,447.19 L478.50,447.97 L480.50,448.74 L482.50,449.51 L484.50,450.27 L486.50,451.03 L488.50,451.78 L490.50,452.53 L492.50,453.27 L494.50,454.01 L496.50,454.75 L498.50,455.48 L500.50,456.21 L502.50,456.93 L504.50,457.65 L506.50,458.36 L508.50,459.07 L510.50,459.78 L512.50,460.49 L514.50,461.19 L516.50,461.88 L518.50,462.58 L520.50,463.27 L522.50,463.95 L524.50,464.64 L526.50,465.32 L528.50,465.99 L530.50,466.67 L532.50,467.34 L534.50,468.01 L536.50,468.67 L538.50,469.33 L540.50,469.99 L542.50,470.65 L544.50,471.31 L545.00,471.47" stroke="#0000ff" stroke-width="1.4" stroke-dasharray="3.0 1.4" stroke-dashoffset="0" fill="none"/>
<path d="M142.50,227.58 L144.50,229.69 L146.50,231.79 L148.50,233.87 L150.50,235.95 L152.50,238.02 L154.50,240.07 L156.50,242.11 L158.50,244.15 L160.50,246.17 L162.50,248.18 L164.50,250.18 L166.50,252.16 L168.50,254.14 L170.50,256.11 L172.50,258.06 L174.50,260.01 L176.50,261.94 L178.50,263.87 L180.50,265.78 L182.50,267.68 L184.50,269.58 L186.50,271.46 L188.50,273.33 L190.50,275.19 L192.50,277.04 L194.50,278.88 L196.50,280.71 L198.50,282.53 L200.50,284.34 L202.50,286.14 L204.50,287.93 L206.50,289.70 L208.50,291.47 L210.50,293.23 L212.50,294.98 L214.50,296.72 L216.50,298.45 L218.50,300.17 L220.50,301.88 L222.50,303.58 L224.50,305.27 L226.50,306.95 L228.50,308.62 L230.50,310.28 L232.50,311.93 L234.50,313.57 L236.50,315.20 L238.50,316.82 L240.50,318.44 L242.50,320.04 L244.50,321.64 L246.50,323.22 L248.50,324.80 L250.50,326.36 L252.50,327.92 L254.50,329.47 L256.50,331.01 L258.50,332.54 L260.50,334.06 L262.50,335.57 L264.50,337.08 L266.50,338.57 L268.50,340.06 L270.50,341.53 L272.50,343.00 L274.50,344.46 L276.50,345.91 L278.50,347.36 L280.50,348.79 L282.50,350.21 L284.50,351.63 L286.50,353.04 L288.50,354.44 L290.50,355.83 L292.50,357.21 L294.50,358.58 L296.50,359.95 L298.50,361.31 L300.50,362.66 L302.50,364.00 L304.50,365.33 L306.50,366.66 L308.50,367.97 L310.50,369.28 L312.50,370.58 L314.50,371.88 L316.50,373.16 L318.50,374.44 L320.50,375.71 L322.50,376.97 L324.50,378.22 L326.50,379.47 L328.50,380.71 L330.50,381.94 L332.50,383.16 L334.50,384.37 L336.50,385.58 L338.50,386.78 L340.50,387.97 L342.50,389.16 L344.50,390.34 L346.50,391.51 L348.50,392.67 L350.50,393.82 L352.50,394.97 L354.50,396.11 L356.50,397.24 L358.50,398.37 L360.50,399.49 L362.50,400.60 L364.50,401.70 L366.50,402.80 L368.50,403.89 L370.50,404.98 L372.50,406.06 L374.50,407.13 L376.50,408.20 L378.50,409.26 L380.50,410.31 L382.50,411.36 L384.50,412.41 L386.50,413.45 L388.50,414.49 L390.50,415.52 L392.50,416.55 L394.50,417.58 L396.50,418.60 L398.50,419.62 L400.50,420.64 L402.50,421.65 L404.50,422.66 L406.50,423.67 L408.50,424.67 L410.50,425.68 L412.50,426.68 L414.50,427.68 L416.50,428.68 L418.50,429.68 L420.50,430.67 L422.50,431.66 L424.50,432.65 L426.50,433.64 L428.50,434.62 L430.50,435.60 L432.50,436.58 L434.50,437.55 L436.50,438.53 L438.50,439.50 L440.50,440.46 L442.50,441.43 L444.50,442.39 L446.50,443.34 L448.50,444.30 L450.50,445.25 L452.50,446.19 L454.50,447.14 L456.50,448.08 L458.50,449.01 L460.50,449.95 L462.50,450.87 L464.50,451.80 L466.50,452.72 L468.50,453.63 L470.50,454.55 L472.50,455.45 L474.50,456.36 L476.50,457.26 L478.50,458.15 L480.50,459.04 L482.50,459.93 L484.50,460.81 L486.50,461.68 L488.50,462.55 L490.50,463.42 L492.50,464.28 L494.50,465.14 L496.50,465.99 L498.50,466.83 L500.50,467.67 L502.50,468.51 L504.50,469.34 L506.50,470.16 L508.50,470.98 L510.50,471.79 L512.50,472.60 L514.50,473.40 L516.50,474.20 L518.50,474.99 L520.50,475.77 L522.50,476.55 L524.50,477.32 L526.50,478.08 L528.50,478.84 L530.50,479.60 L532.50,480.34 L534.50,481.08 L536.50,481.81 L538.50,482.54 L540.50,483.26 L542.50,483.97 L544.50,484.67 L545.00,484.85" stroke="#000000" stroke-width="2.1" fill="none"/>
<path d="M383.9,410.50 L385.3,414.63" stroke="#ffffff" stroke-width="1.1" fill="none"/>
<path d="M143.50,229.02 L145.50,231.29 L147.50,233.54 L149.50,235.76 L151.50,237.95 L153.50,240.11 L155.50,242.26 L157.50,244.38 L159.50,246.48 L161.50,248.57 L163.50,250.65 L165.50,252.71 L167.50,254.77 L169.50,256.82 L171.50,258.87 L173.50,260.91 L175.50,262.95 L177.50,264.98 L179.50,267.01 L181.50,269.03 L183.50,271.04 L185.50,273.05 L187.50,275.04 L189.50,277.02 L191.50,278.99 L193.50,280.95 L195.50,282.89 L197.50,284.81 L199.50,286.72 L201.50,288.61 L203.50,290.48 L205.50,292.33 L207.50,294.16 L209.50,295.96 L211.50,297.75 L213.50,299.52 L215.50,301.27 L217.50,303.00 L219.50,304.71 L221.50,306.42 L223.50,308.10 L225.50,309.78 L227.50,311.45 L229.50,313.11 L231.50,314.75 L233.50,316.39 L235.50,318.03 L237.50,319.65 L239.50,321.26 L241.50,322.87 L243.50,324.46 L245.50,326.05 L247.50,327.63 L249.50,329.20 L251.50,330.76 L253.50,332.32 L255.50,333.86 L257.50,335.40 L259.50,336.93 L261.50,338.45 L263.50,339.96 L265.50,341.46 L267.50,342.95 L269.50,344.44 L271.50,345.91 L273.50,347.38 L275.50,348.84 L277.50,350.29 L279.50,351.74 L281.50,353.17 L283.50,354.60 L285.50,356.01 L287.50,357.42 L289.50,358.82 L291.50,360.21 L293.50,361.60 L295.50,362.97 L297.50,364.34 L299.50,365.70 L301.50,367.04 L303.50,368.39 L305.50,369.72 L307.50,371.04 L309.50,372.36 L311.50,373.67 L313.50,374.97 L315.50,376.27 L317.50,377.55 L319.50,378.83 L321.50,380.10 L323.50,381.36 L325.50,382.62 L327.50,383.87 L329.50,385.11 L331.50,386.34 L333.50,387.57 L335.50,388.79 L337.50,390.00 L339.50,391.21 L341.50,392.40 L343.50,393.60 L345.50,394.78 L347.50,395.96 L349.50,397.13 L351.50,398.30 L353.50,399.46 L355.50,400.61 L357.50,401.75 L359.50,402.89 L361.50,404.03 L363.50,405.16 L365.50,406.28 L367.50,407.39 L369.50,408.50 L371.50,409.61 L373.50,410.70 L375.50,411.79 L377.50,412.88 L379.50,413.96 L381.50,415.04 L383.50,416.10 L385.50,417.17 L387.50,418.22 L389.50,419.28 L391.50,420.32 L393.50,421.36 L395.50,422.40 L397.50,423.43 L399.50,424.46 L401.50,425.47 L403.50,426.49 L405.50,427.50 L407.50,428.50 L409.50,429.50 L411.50,430.50 L413.50,431.48 L415.50,432.47 L417.50,433.45 L419.50,434.42 L421.50,435.39 L423.50,436.35 L425.50,437.31 L427.50,438.27 L429.50,439.22 L431.50,440.16 L433.50,441.10 L435.50,442.04 L437.50,442.97 L439.50,443.90 L441.50,444.82 L443.50,445.74 L445.50,446.65 L447.50,447.56 L449.50,448.47 L451.50,449.37 L453.50,450.27 L455.50,451.16 L457.50,452.05 L459.50,452.94 L461.50,453.82 L463.50,454.69 L465.50,455.57 L467.50,456.43 L469.50,457.30 L471.50,458.16 L473.50,459.02 L475.50,459.87 L477.50,460.72 L479.50,461.57 L481.50,462.41 L483.50,463.25 L485.50,464.09 L487.50,464.92 L489.50,465.75 L491.50,466.58 L493.50,467.40 L495.50,468.22 L497.50,469.04 L499.50,469.85 L501.50,470.66 L503.50,471.46 L505.50,472.27 L507.50,473.07 L509.50,473.87 L511.50,474.66 L513.50,475.45 L515.50,476.24 L517.50,477.03 L519.50,477.81 L521.50,478.59 L523.50,479.37 L525.50,480.15 L527.50,480.92 L529.50,481.69 L531.50,482.46 L533.50,483.22 L535.50,483.98 L537.50,484.74 L539.50,485.50 L541.50,486.26 L543.50,487.01 L545.00,487.58" stroke="#ff0000" stroke-width="1.4" stroke-dasharray="3.0 1.4" stroke-dashoffset="0" fill="none"/>
</g>
<g>
<path d="M0.0,495.6 V4.5 H545.5 V495.6" stroke="#000" stroke-width="1" fill="none"/>
<path d="M0.0,495.0 H546.0" stroke="#000" stroke-width="1.25" fill="none"/>
<path d="M23.4,4.5 v4.6 M23.4,495.0 v-5" stroke="#000" stroke-width="1" fill="none"/>
<path d="M142.3,4.5 v4.6 M142.3,495.0 v-5" stroke="#000" stroke-width="1" fill="none"/>
<path d="M261.0,4.5 v4.6 M261.0,495.0 v-5" stroke="#000" stroke-width="1" fill="none"/>
<path d="M379.7,4.5 v4.6 M379.7,495.0 v-5" stroke="#000" stroke-width="1" fill="none"/>
<path d="M498.2,4.5 v4.6 M498.2,495.0 v-5" stroke="#000" stroke-width="1" fill="none"/>
<path d="M0.0,19.0 h2.5 M545.5,19.0 h-2.5" stroke="#000" stroke-width="1" fill="none"/>
<path d="M0.0,35.5 h2.5 M545.5,35.5 h-2.5" stroke="#000" stroke-width="1" fill="none"/>
<path d="M0.0,54.2 h2.5 M545.5,54.2 h-2.5" stroke="#000" stroke-width="1" fill="none"/>
<path d="M0.0,75.8 h2.5 M545.5,75.8 h-2.5" stroke="#000" stroke-width="1" fill="none"/>
<path d="M0.0,101.3 h2.5 M545.5,101.3 h-2.5" stroke="#000" stroke-width="1" fill="none"/>
<path d="M0.0,132.5 h2.5 M545.5,132.5 h-2.5" stroke="#000" stroke-width="1" fill="none"/>
<path d="M0.0,172.8 h2.5 M545.5,172.8 h-2.5" stroke="#000" stroke-width="1" fill="none"/>
<path d="M0.0,229.5 h2.5 M545.5,229.5 h-2.5" stroke="#000" stroke-width="1" fill="none"/>
<path d="M0.0,326.5 h4.5 M545.5,326.5 h-4.5" stroke="#000" stroke-width="1" fill="none"/>
<path d="M0.0,341.2 h2.5 M545.5,341.2 h-2.5" stroke="#000" stroke-width="1" fill="none"/>
<path d="M0.0,357.7 h2.5 M545.5,357.7 h-2.5" stroke="#000" stroke-width="1" fill="none"/>
<path d="M0.0,376.4 h2.5 M545.5,376.4 h-2.5" stroke="#000" stroke-width="1" fill="none"/>
<path d="M0.0,398.0 h2.5 M545.5,398.0 h-2.5" stroke="#000" stroke-width="1" fill="none"/>
<path d="M0.0,423.5 h2.5 M545.5,423.5 h-2.5" stroke="#000" stroke-width="1" fill="none"/>
<path d="M0.0,454.7 h2.5 M545.5,454.7 h-2.5" stroke="#000" stroke-width="1" fill="none"/>
</g>
</svg>
</body></html>
